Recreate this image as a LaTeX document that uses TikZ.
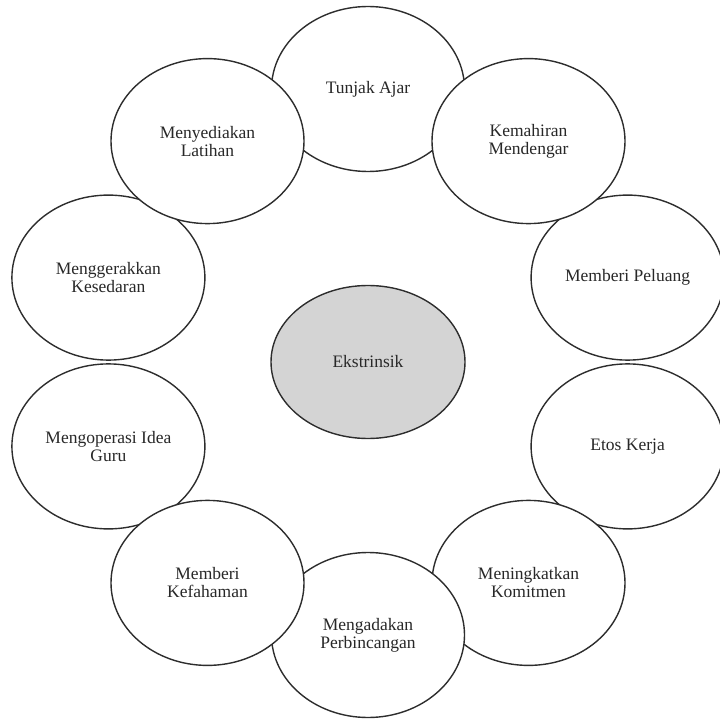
\documentclass[tikz,border=0pt]{standalone}
\usepackage{fontspec}
\setmainfont{Liberation Serif}
\usetikzlibrary{shapes.geometric}
\definecolor{edgecol}{RGB}{45,45,45}
\definecolor{centerfill}{RGB}{212,212,212}
\definecolor{textcol}{RGB}{40,40,40}
\tikzset{
  bubble/.style={ellipse, draw=edgecol, line width=1.4pt, fill=white,
    minimum width=193pt, minimum height=165pt, inner sep=0pt,
    align=center, text=textcol, font=\fontsize{17.5}{18}\selectfont},
  hub/.style={bubble, fill=centerfill, minimum width=194pt, minimum height=153pt}
}
\begin{document}
\begin{tikzpicture}[x=1pt,y=-1pt]
\useasboundingbox (0,0) rectangle (720,719);
\node[bubble] (tunjak) at (368,89) {Tunjak Ajar};
\node[bubble] (peluang) at (627.6,277.6) {Memberi Peluang};
\node[bubble] (etos) at (627.6,446.4) {Etos Kerja};
\node[bubble] (operasi) at (108.4,446.4) {Mengoperasi Idea\\Guru};
\node[bubble] (gerak) at (108.4,277.6) {Menggerakkan\\Kesedaran};
\node[bubble] (komitmen) at (528.5,582.9) {Meningkatkan\\Komitmen};
\node[bubble] (bincang) at (368,635) {Mengadakan\\Perbincangan};
\node[bubble] (faham) at (207.5,582.9) {Memberi\\Kefahaman};
\node[bubble] (latihan) at (207.5,141.1) {Menyediakan\\Latihan};
\node[bubble] (dengar) at (528.5,141.1) {Kemahiran\\Mendengar};
\node[hub] (ekstrinsik) at (368,362) {Ekstrinsik};
\end{tikzpicture}
\end{document}
